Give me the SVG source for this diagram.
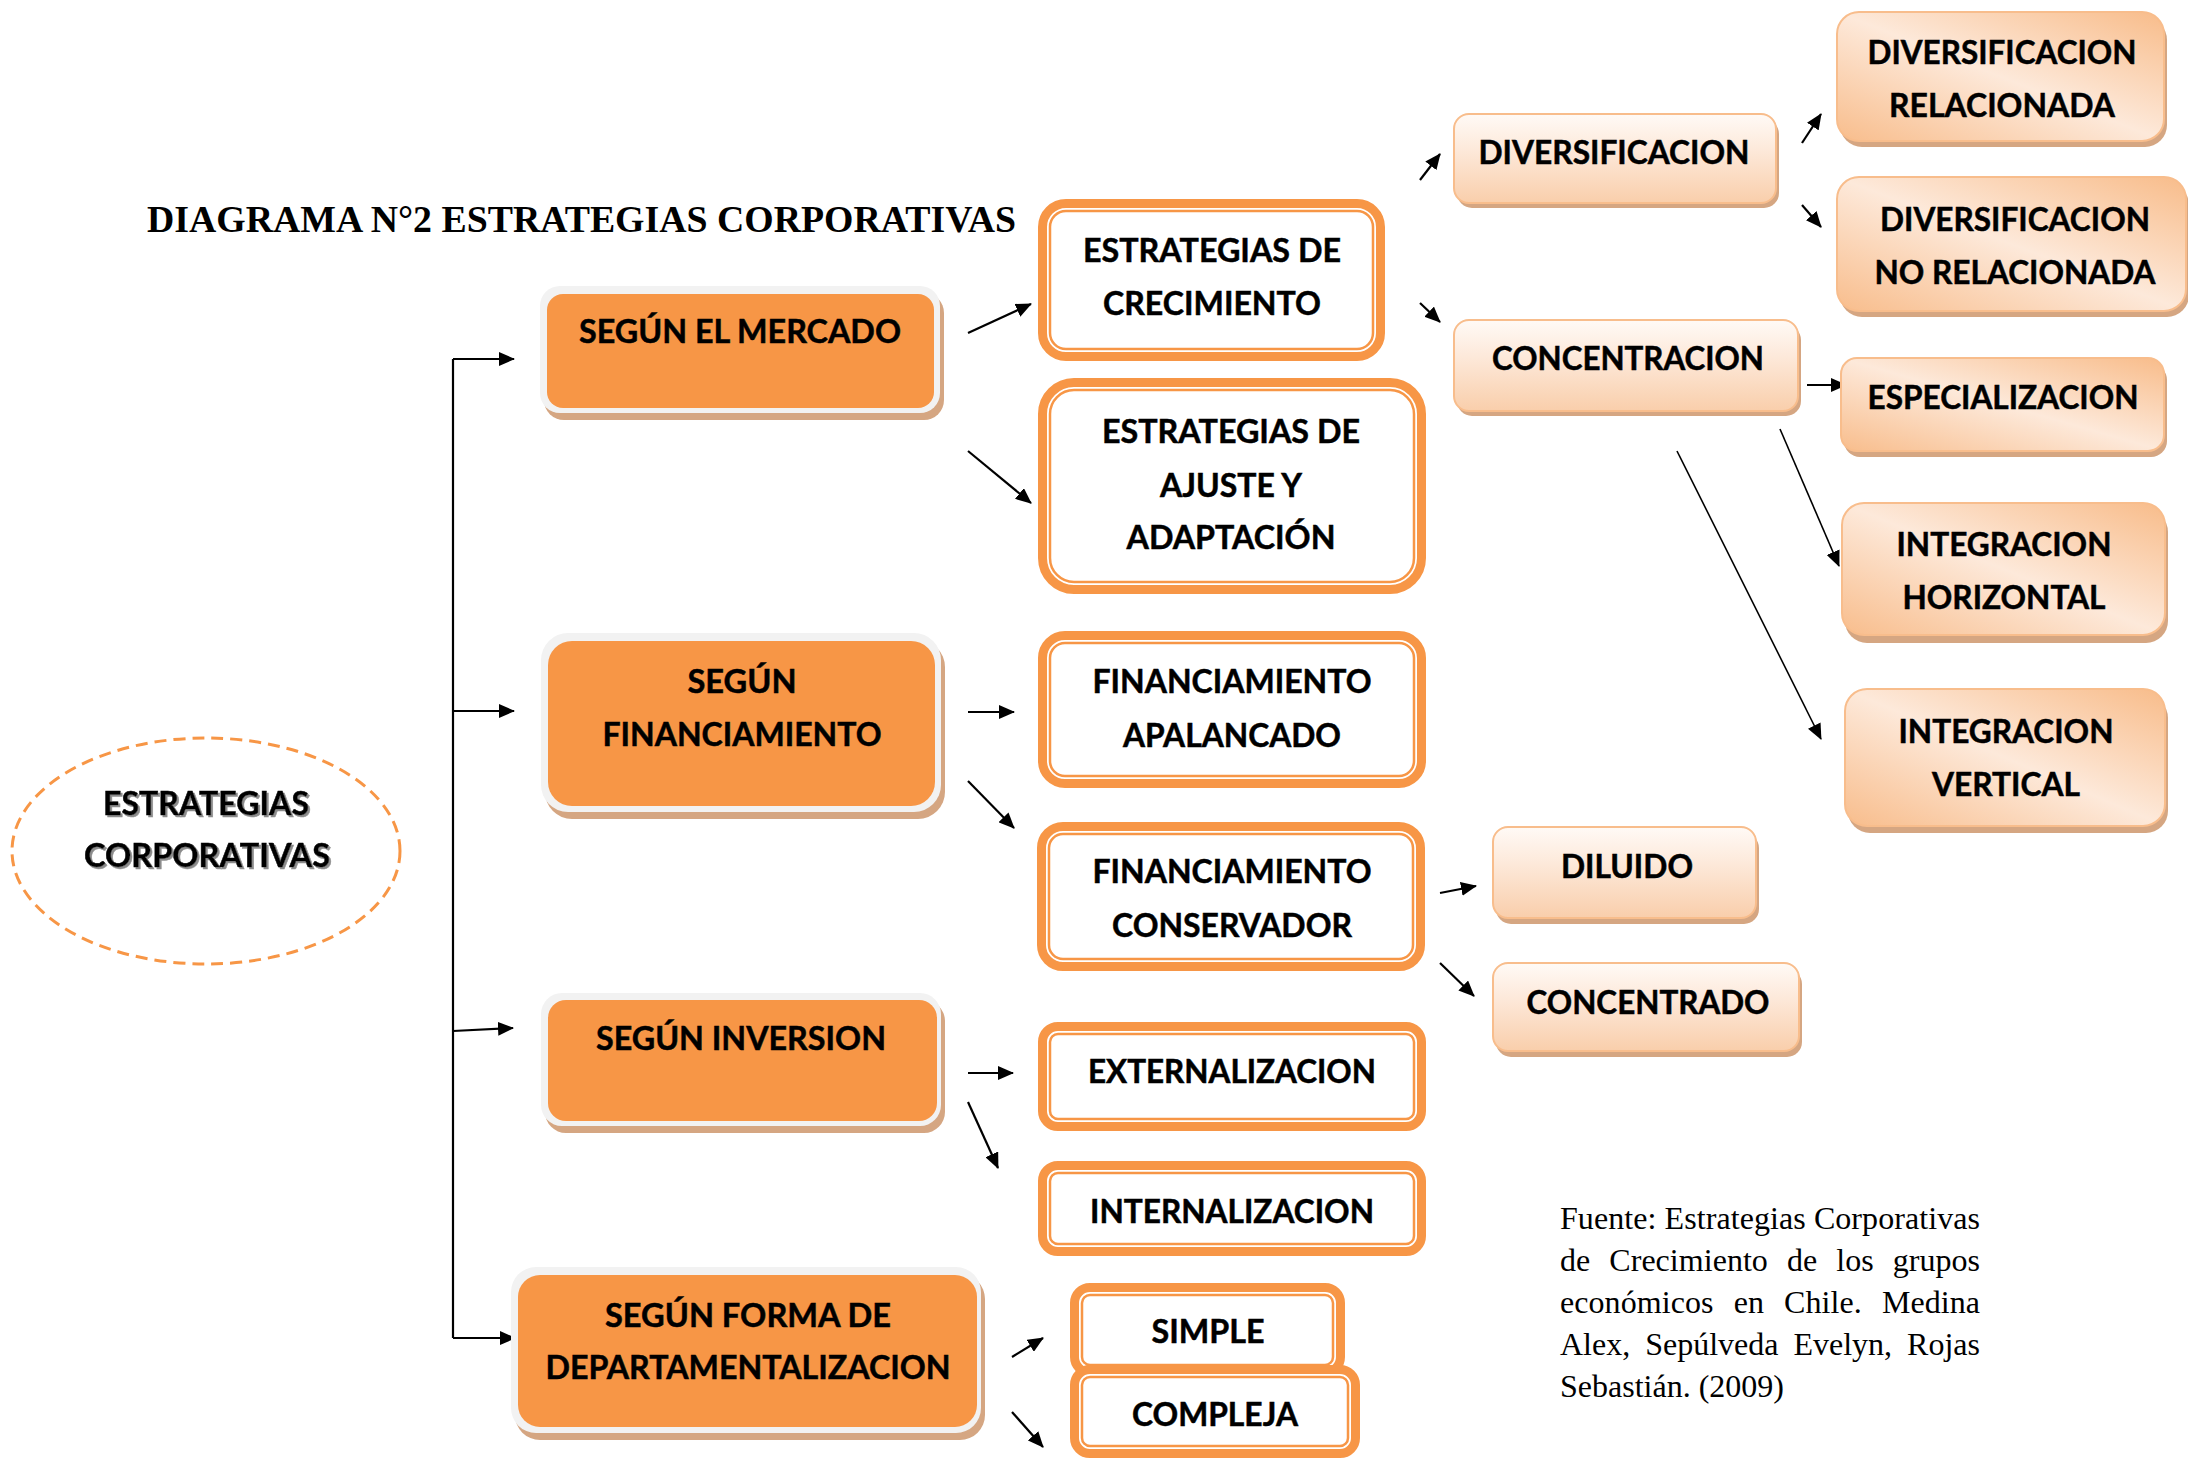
<svg xmlns="http://www.w3.org/2000/svg" width="2188" height="1458" viewBox="0 0 2188 1458">
<defs>
<style>
.t{font-family:Lato,"Open Sans","Liberation Sans",sans-serif;font-weight:700;font-size:33px;text-anchor:middle;fill:#000;stroke:#000;stroke-width:0.5}
.sh{fill:#d5a682}
.rim{fill:#f2f2f2}
.org{fill:#f79646}
.olo{fill:#fff;stroke:#f79646;stroke-width:9}
.oli{fill:none;stroke:#f79646;stroke-width:2.5}
.gv{fill:url(#gradV);stroke:#f8bd8c;stroke-width:2}
.gd{fill:url(#gradD);stroke:#f8bd8c;stroke-width:2}
.c{fill:none;stroke:#000;stroke-width:2.2;marker-end:url(#ah)}
.src{font-family:"Liberation Serif","Times New Roman",serif;font-size:32px;fill:#000}
</style>
<linearGradient id="gradV" x1="0" y1="0" x2="0" y2="1">
<stop offset="0" stop-color="#fffaf6"/>
<stop offset="0.4" stop-color="#fde9da"/>
<stop offset="1" stop-color="#f9ceab"/>
</linearGradient>
<linearGradient id="gradD" x1="1" y1="0" x2="0" y2="1">
<stop offset="0" stop-color="#f8bc8a"/>
<stop offset="0.5" stop-color="#fde9da"/>
<stop offset="1" stop-color="#f8bd8c"/>
</linearGradient>
<marker id="ah" viewBox="0 0 16 14" markerWidth="16" markerHeight="14" refX="15" refY="7" orient="auto" markerUnits="userSpaceOnUse">
<path d="M0,0 L16,7 L0,14 z" fill="#000"/>
</marker>
<filter id="tsh" x="-10%" y="-20%" width="120%" height="150%">
<feDropShadow dx="2" dy="2" stdDeviation="0.6" flood-color="#7f7f7f" flood-opacity="0.9"/>
</filter>
</defs>

<text x="147" y="232" font-family="'Liberation Serif','Times New Roman',serif" font-weight="700" font-size="37" textLength="869" lengthAdjust="spacingAndGlyphs">DIAGRAMA N°2 ESTRATEGIAS CORPORATIVAS</text>

<g id="connectors">
<path d="M453,359 V1338" fill="none" stroke="#000" stroke-width="2.2"/>
<path class="c" d="M453,359 H514"/>
<path class="c" d="M453,711 H514"/>
<path class="c" d="M453,1031 L513,1028"/>
<path class="c" d="M453,1338 H515"/>
<path class="c" d="M968,333 L1031,304"/>
<path class="c" d="M968,451 L1031,503"/>
<path class="c" d="M1420,180 L1440,154"/>
<path class="c" d="M1420,303 L1440,322"/>
<path class="c" d="M1802,143 L1821,114"/>
<path class="c" d="M1802,205 L1821,227"/>
<path class="c" d="M1807,385 L1846,385"/>
<path class="c" d="M1780,429 L1839,566" style="stroke-width:1.6"/>
<path class="c" d="M1677,451 L1821,739" style="stroke-width:1.6"/>
<path class="c" d="M968,712 L1014,712"/>
<path class="c" d="M968,781 L1014,828"/>
<path class="c" d="M1440,893 L1476,886"/>
<path class="c" d="M1440,963 L1474,996"/>
<path class="c" d="M968,1073 L1013,1073"/>
<path class="c" d="M968,1102 L998,1168"/>
<path class="c" d="M1012,1357 L1043,1338"/>
<path class="c" d="M1012,1412 L1043,1447"/>
</g>

<g id="n-root">
<ellipse cx="206" cy="851" rx="194" ry="113" fill="none" stroke="#f79646" stroke-width="3" stroke-dasharray="12 7"/>
<text class="t" x="206" y="815" textLength="206" lengthAdjust="spacingAndGlyphs" filter="url(#tsh)">ESTRATEGIAS</text>
<text class="t" x="207" y="867" textLength="246" lengthAdjust="spacingAndGlyphs" filter="url(#tsh)">CORPORATIVAS</text>
</g>

<g id="n-mercado">
<rect class="sh" x="544" y="293" width="400" height="127" rx="20"/>
<rect class="rim" x="540" y="286" width="400" height="127" rx="20"/>
<rect class="org" x="547" y="294" width="387" height="114" rx="16"/>
<text class="t" x="740" y="343" textLength="322" lengthAdjust="spacingAndGlyphs">SEGÚN EL MERCADO</text>
</g>

<g id="n-financiamiento">
<rect class="sh" x="545" y="640" width="400" height="179" rx="27"/>
<rect class="rim" x="541" y="633" width="400" height="179" rx="27"/>
<rect class="org" x="548" y="641" width="387" height="165" rx="24"/>
<text class="t" x="742" y="693" textLength="109" lengthAdjust="spacingAndGlyphs">SEGÚN</text>
<text class="t" x="742" y="746" textLength="279" lengthAdjust="spacingAndGlyphs">FINANCIAMIENTO</text>
</g>

<g id="n-inversion">
<rect class="sh" x="545" y="1000" width="400" height="133" rx="21"/>
<rect class="rim" x="541" y="993" width="400" height="133" rx="21"/>
<rect class="org" x="548" y="1000" width="389" height="121" rx="18"/>
<text class="t" x="741" y="1050" textLength="290" lengthAdjust="spacingAndGlyphs">SEGÚN INVERSION</text>
</g>

<g id="n-departamentalizacion">
<rect class="sh" x="515" y="1274" width="470" height="166" rx="25"/>
<rect class="rim" x="511" y="1267" width="470" height="166" rx="25"/>
<rect class="org" x="518" y="1275" width="459" height="152" rx="22"/>
<text class="t" x="748" y="1327" textLength="286" lengthAdjust="spacingAndGlyphs">SEGÚN FORMA DE</text>
<text class="t" x="748" y="1379" textLength="405" lengthAdjust="spacingAndGlyphs">DEPARTAMENTALIZACION</text>
</g>

<g id="n-crecimiento">
<rect class="olo" x="1042.5" y="203.5" width="338" height="153" rx="23.5"/>
<rect class="oli" x="1050" y="211" width="323" height="138" rx="16"/>
<text class="t" x="1212" y="262" textLength="258" lengthAdjust="spacingAndGlyphs">ESTRATEGIAS DE</text>
<text class="t" x="1212" y="315" textLength="218" lengthAdjust="spacingAndGlyphs">CRECIMIENTO</text>
</g>

<g id="n-ajuste">
<rect class="olo" x="1042.5" y="382.5" width="379" height="207" rx="31.5"/>
<rect class="oli" x="1050" y="390" width="364" height="192" rx="24"/>
<text class="t" x="1231" y="443" textLength="258" lengthAdjust="spacingAndGlyphs">ESTRATEGIAS DE</text>
<text class="t" x="1231" y="497" textLength="142" lengthAdjust="spacingAndGlyphs">AJUSTE Y</text>
<text class="t" x="1231" y="549" textLength="209" lengthAdjust="spacingAndGlyphs">ADAPTACIÓN</text>
</g>

<g id="n-apalancado">
<rect class="olo" x="1042.5" y="635.5" width="379" height="148" rx="22.5"/>
<rect class="oli" x="1050" y="643" width="364" height="133" rx="15"/>
<text class="t" x="1232" y="693" textLength="279" lengthAdjust="spacingAndGlyphs">FINANCIAMIENTO</text>
<text class="t" x="1232" y="747" textLength="218" lengthAdjust="spacingAndGlyphs">APALANCADO</text>
</g>

<g id="n-conservador">
<rect class="olo" x="1041.5" y="826.5" width="379" height="140" rx="21.5"/>
<rect class="oli" x="1049" y="834" width="364" height="125" rx="14"/>
<text class="t" x="1232" y="883" textLength="279" lengthAdjust="spacingAndGlyphs">FINANCIAMIENTO</text>
<text class="t" x="1232" y="937" textLength="240" lengthAdjust="spacingAndGlyphs">CONSERVADOR</text>
</g>

<g id="n-externalizacion">
<rect class="olo" x="1042.5" y="1026.5" width="379" height="100" rx="15.5"/>
<rect class="oli" x="1050" y="1034" width="364" height="85" rx="8"/>
<text class="t" x="1232" y="1083" textLength="288" lengthAdjust="spacingAndGlyphs">EXTERNALIZACION</text>
</g>

<g id="n-internalizacion">
<rect class="olo" x="1042.5" y="1165.5" width="379" height="86" rx="15.5"/>
<rect class="oli" x="1050" y="1173" width="364" height="71" rx="8"/>
<text class="t" x="1232" y="1223" textLength="284" lengthAdjust="spacingAndGlyphs">INTERNALIZACION</text>
</g>

<g id="n-simple">
<rect class="olo" x="1074.5" y="1287.5" width="266" height="85" rx="15.5"/>
<rect class="oli" x="1082" y="1295" width="251" height="70" rx="8"/>
<text class="t" x="1208" y="1343" textLength="113" lengthAdjust="spacingAndGlyphs">SIMPLE</text>
</g>

<g id="n-compleja">
<rect class="olo" x="1074.5" y="1369.5" width="281" height="84" rx="15.5"/>
<rect class="oli" x="1082" y="1377" width="266" height="69" rx="8"/>
<text class="t" x="1215" y="1426" textLength="166" lengthAdjust="spacingAndGlyphs">COMPLEJA</text>
</g>

<g id="n-diversificacion">
<rect class="sh" x="1457" y="119" width="322" height="89" rx="15"/>
<rect class="gv" x="1454" y="114" width="322" height="89" rx="15"/>
<text class="t" x="1614" y="164" textLength="271" lengthAdjust="spacingAndGlyphs">DIVERSIFICACION</text>
</g>

<g id="n-concentracion">
<rect class="sh" x="1457" y="325" width="344" height="91" rx="15"/>
<rect class="gv" x="1454" y="320" width="344" height="91" rx="15"/>
<text class="t" x="1628" y="370" textLength="272" lengthAdjust="spacingAndGlyphs">CONCENTRACION</text>
</g>

<g id="n-div-relacionada">
<rect class="sh" x="1840" y="18" width="327" height="129" rx="22"/>
<rect class="gd" x="1837" y="12" width="327" height="129" rx="22"/>
<text class="t" x="2002" y="64" textLength="269" lengthAdjust="spacingAndGlyphs">DIVERSIFICACION</text>
<text class="t" x="2002" y="117" textLength="226" lengthAdjust="spacingAndGlyphs">RELACIONADA</text>
</g>

<g id="n-div-no-relacionada">
<rect class="sh" x="1840" y="183" width="349" height="134" rx="22"/>
<rect class="gd" x="1837" y="177" width="349" height="134" rx="22"/>
<text class="t" x="2015" y="231" textLength="270" lengthAdjust="spacingAndGlyphs">DIVERSIFICACION</text>
<text class="t" x="2015" y="284" textLength="281" lengthAdjust="spacingAndGlyphs">NO RELACIONADA</text>
</g>

<g id="n-especializacion">
<rect class="sh" x="1844" y="364" width="323" height="93" rx="16"/>
<rect class="gd" x="1841" y="358" width="323" height="93" rx="16"/>
<text class="t" x="2003" y="409" textLength="271" lengthAdjust="spacingAndGlyphs">ESPECIALIZACION</text>
</g>

<g id="n-integracion-horizontal">
<rect class="sh" x="1845" y="510" width="323" height="133" rx="22"/>
<rect class="gd" x="1842" y="503" width="323" height="132" rx="22"/>
<text class="t" x="2004" y="556" textLength="215" lengthAdjust="spacingAndGlyphs">INTEGRACION</text>
<text class="t" x="2004" y="609" textLength="203" lengthAdjust="spacingAndGlyphs">HORIZONTAL</text>
</g>

<g id="n-integracion-vertical">
<rect class="sh" x="1848" y="696" width="320" height="137" rx="22"/>
<rect class="gd" x="1845" y="689" width="320" height="137" rx="22"/>
<text class="t" x="2006" y="743" textLength="215" lengthAdjust="spacingAndGlyphs">INTEGRACION</text>
<text class="t" x="2006" y="796" textLength="148" lengthAdjust="spacingAndGlyphs">VERTICAL</text>
</g>

<g id="n-diluido">
<rect class="sh" x="1496" y="833" width="263" height="91" rx="15"/>
<rect class="gv" x="1493" y="827" width="263" height="91" rx="15"/>
<text class="t" x="1627" y="878" textLength="132" lengthAdjust="spacingAndGlyphs">DILUIDO</text>
</g>

<g id="n-concentrado">
<rect class="sh" x="1496" y="969" width="306" height="88" rx="15"/>
<rect class="gv" x="1493" y="963" width="306" height="88" rx="15"/>
<text class="t" x="1648" y="1014" textLength="243" lengthAdjust="spacingAndGlyphs">CONCENTRADO</text>
</g>

<g id="source">
<text class="src" x="1560" y="1229" textLength="420">Fuente: Estrategias Corporativas</text>
<text class="src" x="1560" y="1271" word-spacing="11" textLength="420">de Crecimiento de los grupos</text>
<text class="src" x="1560" y="1313" word-spacing="12" textLength="420">económicos en Chile. Medina</text>
<text class="src" x="1560" y="1355" word-spacing="7" textLength="420">Alex, Sepúlveda Evelyn, Rojas</text>
<text class="src" x="1560" y="1397">Sebastián. (2009)</text>
</g>
</svg>
